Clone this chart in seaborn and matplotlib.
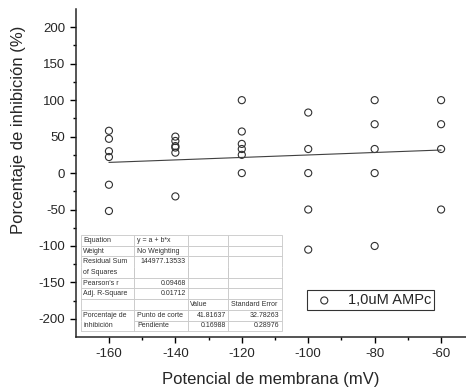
import numpy as np
import pandas as pd
import matplotlib
matplotlib.use("Agg")
import matplotlib.pyplot as plt
import seaborn as sns

# datos
potencial = [-160] * 6 + [-140] * 6 + [-120] * 6 + [-100] * 5 + [-80] * 5 + [-60] * 4
inhibicion = [58, 47, 30, 22, -16, -52,
              50, 44, 37, 35, 28, -32,
              100, 57, 40, 33, 25, 0,
              83, 33, 0, -50, -105,
              100, 67, 33, 0, -100,
              100, 67, 33, -50]
serie = "1,0uM AMPc"

# ajuste lineal (tabla de Origin)
intercepto = 41.81637
pendiente = 0.16988
tabla_filas = [
    ["Equation", "y = a + b*x", "", ""],
    ["Weight", "No Weighting", "", ""],
    ["Residual Sum", "144977.13533", "", ""],
    ["of Squares", "", "", ""],
    ["Pearson's r", "0.09468", "", ""],
    ["Adj. R-Square", "0.01712", "", ""],
    ["", "", "Value", "Standard Error"],
    ["Porcentaje de", "Punto de corte", "41.81637", "32.78263"],
    ["inhibición", "Pendiente", "0.16988", "0.28976"],
]

df = pd.DataFrame({"x": potencial, "y": inhibicion})
xfit = np.array([min(potencial), max(potencial)])
fit = pd.DataFrame({"x": xfit, "y": intercepto + pendiente * xfit})

sns.set_style("ticks")
plt.rcParams["font.family"] = ["Liberation Sans", "DejaVu Sans"]
plt.rcParams["axes.unicode_minus"] = False

fig = plt.figure(figsize=(4.66, 3.92), dpi=100)
ax = fig.add_axes([0.1625, 0.140, 0.8375, 0.837])

sns.lineplot(data=fit, x="x", y="y", ax=ax, color="#404040", lw=0.8)
sns.scatterplot(data=df, x="x", y="y", ax=ax, marker="o", s=26,
                facecolor="none", edgecolor="#303030", linewidth=0.8, label=serie)

ax.set_xlim(-170, -52.5)
ax.set_ylim(-225, 225)
ax.set_xticks(np.arange(-160, -59, 20))
ax.set_xticks(np.arange(-150, -59, 20), minor=True)
ax.set_yticks(np.arange(-200, 201, 50))
ax.set_yticks(np.arange(-175, 201, 50), minor=True)
ax.tick_params(which="major", length=4, width=1, labelsize=9.5, color="black")
ax.tick_params(which="minor", length=2.5, width=1, color="black")
for s in ["top", "right"]:
    ax.spines[s].set_visible(False)
for s in ["left", "bottom"]:
    ax.spines[s].set_linewidth(1.1)

ax.set_xlabel("Potencial de membrana (mV)", fontsize=12)
ax.set_ylabel("Porcentaje de inhibición (%)", fontsize=12)
ax.xaxis.set_label_coords(0.5, -0.105)
ax.yaxis.set_label_coords(-0.128, 0.631)

leg = ax.legend(loc="lower left", bbox_to_anchor=(0.592, 0.082), borderaxespad=0,
                fontsize=10.5, frameon=True, fancybox=False, handletextpad=0.6,
                borderpad=0.2, handlelength=2.0)
leg.get_frame().set_edgecolor("black")
leg.get_frame().set_linewidth(0.8)

tab = ax.table(cellText=tabla_filas, colWidths=[0.137, 0.139, 0.101, 0.138],
               bbox=[0.0128, 0.018, 0.515, 0.293], cellLoc="left")
tab.auto_set_font_size(False)
tab.set_fontsize(5)
for (r, c), cell in tab.get_celld().items():
    cell.set_edgecolor("#c8c8c8")
    cell.set_linewidth(0.6)
    cell.PAD = 0.05
    txt = cell.get_text()
    txt.set_color("#303030")
    if (c == 1 and r in (2, 4, 5)) or (c >= 2 and r >= 7):
        txt.set_horizontalalignment("right")
        cell._loc = "right"
    if r == 2:
        cell.visible_edges = "LTR"
    if r == 3:
        cell.visible_edges = "LBR"
    if c == 0 and r == 7:
        cell.visible_edges = "LTR"
    if c == 0 and r == 8:
        cell.visible_edges = "LBR"

fig.savefig("out.png", dpi=100)
